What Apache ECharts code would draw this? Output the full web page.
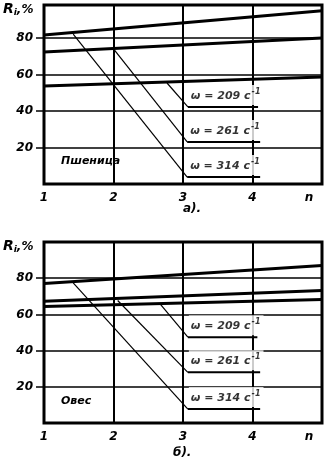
<!DOCTYPE html>
<html>
<head>
<meta charset="utf-8">
<script src="https://cdn.jsdelivr.net/npm/echarts@6/dist/echarts.min.js"></script>
<style>
  html, body { margin: 0; padding: 0; background: #fff; }
  #chart { width: 326px; height: 466px; }
</style>
</head>
<body>
<div id="chart"></div>
<script>
// n axis ends, value ticks
const nEnds = [1, 5]
const yTicks = [20, 40, 60, 80]
const omegas = ['209', '261', '314']

// а) Пшеница: Ri at n=1 and n=5
const wheatTop = [81.6, 94.8]
const wheatMid = [72.3, 80.0]
const wheatLow = [53.7, 58.6]
// leaders: [n start, Ri start, n bend, Ri bend, n end]  (209, 261, 314)
const wheatLeaders = [[2.77, 55.3, 3.07, 42.2, 4.08], [2.0, 74.0, 3.06, 23.0, 4.11], [1.42, 82.0, 3.06, 3.8, 4.11]]

// б) Овес
const oatTop = [77.1, 87.0]
const oatMid = [67.3, 73.2]
const oatLow = [64.4, 68.3]
const oatLeaders = [[2.67, 65.8, 3.07, 47.4, 4.07], [2.06, 67.7, 3.07, 28.0, 4.11], [1.42, 77.4, 3.07, 7.7, 4.11]]

const font = 'DejaVu Sans'
const chart = echarts.init(document.getElementById('chart'), null, { renderer: 'canvas' })

function xAxis(gi) {
  return {
    type: 'value', gridIndex: gi, min: 1, max: 5, interval: 1,
    axisLine: { show: false }, axisTick: { show: false },
    splitLine: { lineStyle: { color: '#000', width: 2 } },
    axisLabel: {
      color: '#000', fontFamily: font, fontStyle: 'italic', fontWeight: 'bold', fontSize: 12, margin: 8,
      formatter: v => v === 5 ? '{n|n}' : String(v),
      rich: { n: { fontFamily: font, fontStyle: 'italic', fontWeight: 'bold', fontSize: 12, padding: [0, 26, 0, 0] } }
    }
  }
}
function yAxis(gi, max) {
  return {
    type: 'value', gridIndex: gi, min: 0, max: max, interval: 20,
    axisLine: { show: false },
    axisTick: { show: true, length: 8, customValues: yTicks, lineStyle: { color: '#000', width: 1.5 } },
    splitLine: { lineStyle: { color: '#000', width: 1.5 } },
    axisLabel: {
      color: '#000', fontFamily: font, fontStyle: 'italic', fontWeight: 'bold', fontSize: 12, margin: 11,
      customValues: yTicks,
      formatter: v => yTicks.includes(v) ? String(v) : ''
    }
  }
}

function thick(gi, vals) {
  return { type: 'line', xAxisIndex: gi, yAxisIndex: gi, symbol: 'none', silent: true,
    lineStyle: { color: '#000', width: 3 }, data: [[nEnds[0], vals[0]], [nEnds[1], vals[1]]] }
}
function leader(gi, l, w) {
  return [
    { type: 'line', xAxisIndex: gi, yAxisIndex: gi, symbol: 'none', silent: true,
      lineStyle: { color: '#000', width: 1.2 }, data: [[l[0], l[1]], [l[2], l[3]]] },
    { type: 'line', xAxisIndex: gi, yAxisIndex: gi, symbol: 'none', silent: true,
      lineStyle: { color: '#000', width: 2 }, data: [[l[2], l[3]], [l[4], l[3]]] },
    // text sits on the bend point, white box hides the grid behind it
    { type: 'scatter', xAxisIndex: gi, yAxisIndex: gi, symbolSize: 0, silent: true, z: 5,
      data: [[l[2], l[3]]],
      label: {
        show: true, position: 'top', align: 'left', distance: 2, offset: [1, 0],
        backgroundColor: '#fff', padding: [3, 3, 1, 2],
        formatter: `{t|ω = ${w} с}{s|-1}`,
        rich: {
          t: { fontFamily: font, fontStyle: 'italic', fontWeight: 'bold', fontSize: 11, color: '#000' },
          s: { fontFamily: font, fontStyle: 'italic', fontWeight: 'bold', fontSize: 8, color: '#000', padding: [0, 0, 8, 1] }
        }
      } }
  ]
}

const series = [
  thick(0, wheatTop), thick(0, wheatMid), thick(0, wheatLow),
  thick(1, oatTop), thick(1, oatMid), thick(1, oatLow)
]
wheatLeaders.forEach((l, i) => series.push(...leader(0, l, omegas[i])))
oatLeaders.forEach((l, i) => series.push(...leader(1, l, omegas[i])))

const titleStyle = { color: '#000', fontFamily: font, fontStyle: 'italic', fontWeight: 'bold', fontSize: 12 }
const riRich = { r: { fontFamily: font, fontStyle: 'italic', fontWeight: 'bold', fontSize: 14, color: '#000' },
  i: { fontFamily: font, fontStyle: 'italic', fontSize: 9, color: '#000', padding: [6, 0, 0, 0] },
  p: { fontFamily: font, fontStyle: 'italic', fontWeight: 'bold', fontSize: 12, color: '#000' } }

chart.setOption({
  animation: false,
  backgroundColor: '#fff',
  title: [
    { text: '{r|R}{i|i}{p|,%}', left: 3, top: 2, padding: 0, textStyle: { rich: riRich } },
    { text: '{r|R}{i|i}{p|,%}', left: 3, top: 239, padding: 0, textStyle: { rich: riRich } },
    { text: 'Пшеница', left: 61, top: 156, padding: 0, textStyle: Object.assign({}, titleStyle, { fontSize: 11 }) },
    { text: 'Овес', left: 61, top: 396, padding: 0, textStyle: Object.assign({}, titleStyle, { fontSize: 11 }) },
    { text: 'а).', left: 183, top: 203, padding: 0, textStyle: titleStyle },
    { text: 'б).', left: 173, top: 447, padding: 0, textStyle: titleStyle }
  ],
  grid: [
    { left: 44, top: 5, width: 278, height: 179, show: true, borderColor: '#000', borderWidth: 3 },
    { left: 44, top: 242, width: 278, height: 181, show: true, borderColor: '#000', borderWidth: 3 }
  ],
  xAxis: [xAxis(0), xAxis(1)],
  yAxis: [yAxis(0, 98), yAxis(1, 100)],
  series
})
window.addEventListener('resize', () => chart.resize())
</script>
</body>
</html>
